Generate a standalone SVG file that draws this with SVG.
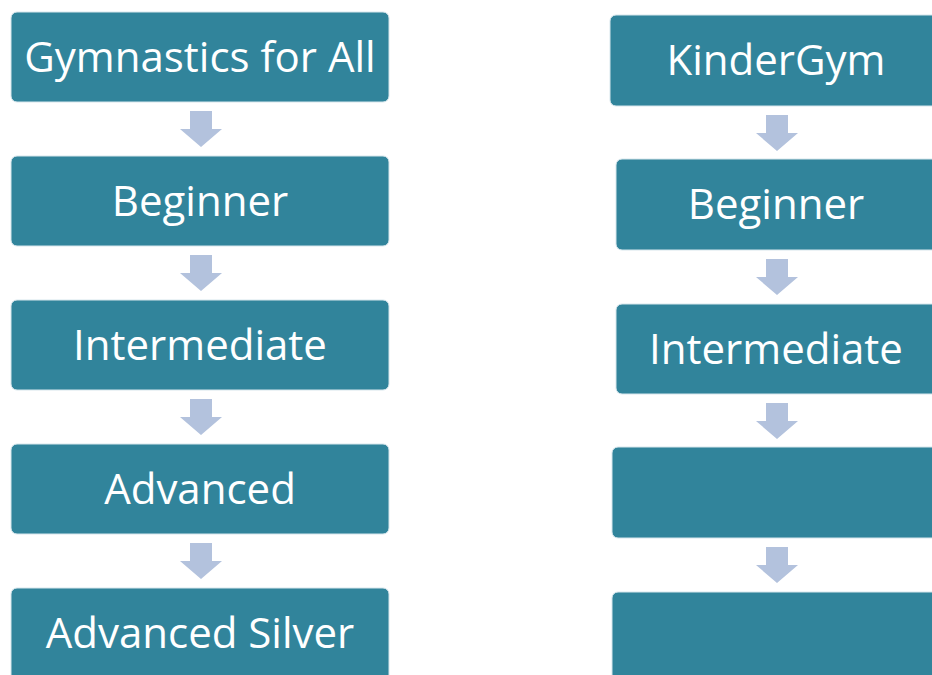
<svg xmlns="http://www.w3.org/2000/svg" width="932" height="675" viewBox="0 0 932 675">
<style>
.box{fill:#31849b;stroke:#d7e6ec;stroke-width:1}
.lbl{fill:#ffffff;font-family:"Open Sans","Liberation Sans",sans-serif;font-size:42px;text-anchor:middle}
.arr{fill:#b3c2dd}
</style>
<defs>
<path id="arrow" class="arr" d="M-11,0 H11 V18 H21 L0,36 L-21,18 H-11 Z"/>
</defs>
<rect width="932" height="675" fill="#ffffff"/>
<g id="connectors">
<use href="#arrow" x="201" y="111"/>
<use href="#arrow" x="201" y="255"/>
<use href="#arrow" x="201" y="399"/>
<use href="#arrow" x="201" y="543"/>
<use href="#arrow" x="777" y="115"/>
<use href="#arrow" x="777" y="259"/>
<use href="#arrow" x="777" y="403"/>
<use href="#arrow" x="777" y="547"/>
</g>
<g id="gym-for-all"><rect class="box" x="11" y="12" width="378" height="90" rx="6"/><text class="lbl" x="200" y="72">Gymnastics for All</text></g>
<g id="beginner-left"><rect class="box" x="11" y="156" width="378" height="90" rx="6"/><text class="lbl" x="200" y="216">Beginner</text></g>
<g id="intermediate-left"><rect class="box" x="11" y="300" width="378" height="90" rx="6"/><text class="lbl" x="200" y="360">Intermediate</text></g>
<g id="advanced-left"><rect class="box" x="11" y="444" width="378" height="90" rx="6"/><text class="lbl" x="200" y="504">Advanced</text></g>
<g id="advanced-silver"><rect class="box" x="11" y="588" width="378" height="100" rx="6"/><text class="lbl" x="200" y="648">Advanced Silver</text></g>
<g id="kindergym"><rect class="box" x="610" y="15" width="340" height="91" rx="6"/><text class="lbl" x="776" y="75">KinderGym</text></g>
<g id="beginner-right"><rect class="box" x="616" y="159" width="340" height="91" rx="6"/><text class="lbl" x="776" y="219">Beginner</text></g>
<g id="intermediate-right"><rect class="box" x="616" y="304" width="340" height="90" rx="6"/><text class="lbl" x="776" y="364">Intermediate</text></g>
<g id="blank-right-4"><rect class="box" x="612" y="447" width="340" height="91" rx="6"/></g>
<g id="blank-right-5"><rect class="box" x="612" y="592" width="340" height="100" rx="6"/></g>
</svg>
